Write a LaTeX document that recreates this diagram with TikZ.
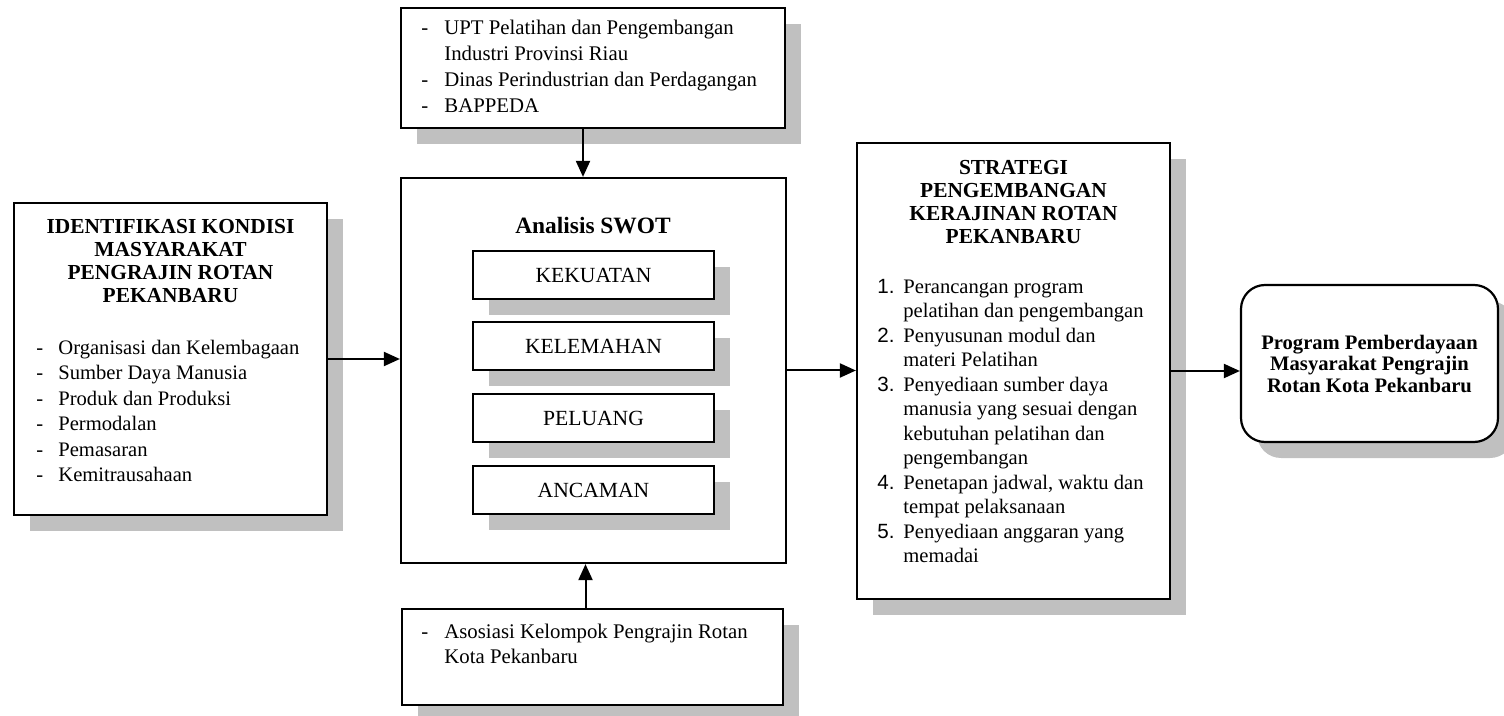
\documentclass[tikz,border=0pt]{standalone}
\usepackage{fontspec}
\setmainfont{Liberation Serif}
\newfontfamily\numfont{Liberation Sans}
\usetikzlibrary{arrows.meta,shadows}
\definecolor{shadowgray}{RGB}{192,192,192}
\tikzset{
	frame/.style={draw, line width=1.1pt, fill=white, inner sep=0pt},
	box/.style={frame, general shadow={fill=shadowgray, shadow xshift=8pt, shadow yshift=-8pt}},
	label/.style={box, minimum width=120.5pt, minimum height=24pt, font=\fontsize{10.8}{13}\selectfont},
	txt/.style={inner sep=0pt, anchor=base west},
	title/.style={inner sep=0pt, anchor=base, font=\bfseries},
	arr/.style={line width=1pt, -{Triangle[length=8pt,width=7pt]}},
}
\begin{document}
\begin{tikzpicture}[x=0.5pt, y=-0.5pt]
		\useasboundingbox (0,0) rectangle (1504,716);
		\node (upt) [box, minimum width=192pt, minimum height=60pt] at (593,68) {};
		\node (upttext) [txt] at (421,34.5) {\fontsize{10.4}{13}\selectfont
			\begin{tabular}[t]{@{}p{11.5pt}@{}l@{}}
				- & UPT Pelatihan dan Pengembangan \\
				  & Industri Provinsi Riau \\
				- & Dinas Perindustrian dan Perdagangan \\
				- & BAPPEDA
			\end{tabular}
		};
		
		\node (kondisi) [box, minimum width=156.5pt, minimum height=156pt] at (170.5,359) {};
		\node (kondisititle) [title] at (170.5,233.5) {\fontsize{10.7}{11.5}\selectfont
			\begin{tabular}[t]{@{}c@{}}
				IDENTIFIKASI KONDISI \\
				MASYARAKAT \\
				PENGRAJIN ROTAN \\
				PEKANBARU
			\end{tabular}
		};
		\node (kondisilist) [txt] at (36,354.5) {\fontsize{10.3}{12.7}\selectfont
			\begin{tabular}[t]{@{}p{11pt}@{}l@{}}
				- & Organisasi dan Kelembagaan \\
				- & Sumber Daya Manusia \\
				- & Produk dan Produksi \\
				- & Permodalan \\
				- & Pemasaran \\
				- & Kemitrausahaan
			\end{tabular}
		};
		
		\node (swot) [frame, minimum width=192.5pt, minimum height=192.5pt] at (593.5,370.5) {};
		\node (swottitle) [title, font=\bfseries\fontsize{11.7}{14}\selectfont] at (593,233.5) {Analisis SWOT};
		\node (kekuatan) [label] at (593.5,275) {KEKUATAN};
		\node (kelemahan) [label] at (593.5,346) {KELEMAHAN};
		\node (peluang) [label] at (593.5,418) {PELUANG};
		\node (ancaman) [label] at (593.5,490) {ANCAMAN};
		
		\node (asosiasi) [box, minimum width=190.5pt, minimum height=48pt] at (592.5,657) {};
		\node (asosiasitext) [txt] at (421,638.5) {\fontsize{10.4}{12.5}\selectfont
			\begin{tabular}[t]{@{}p{11.5pt}@{}l@{}}
				- & Asosiasi Kelompok Pengrajin Rotan \\
				  & Kota Pekanbaru
			\end{tabular}
		};
		
		\node (strategi) [box, minimum width=156.5pt, minimum height=228pt] at (1013.5,371) {};
		\node (strategititle) [title] at (1013.5,174.5) {\fontsize{10.7}{11.5}\selectfont
			\begin{tabular}[t]{@{}c@{}}
				STRATEGI \\
				PENGEMBANGAN \\
				KERAJINAN ROTAN \\
				PEKANBARU
			\end{tabular}
		};
		\node (strategilist) [txt] at (877,293.5) {\fontsize{10.3}{12.25}\selectfont
			\begin{tabular}[t]{@{}p{13pt}@{}l@{}}
				{\numfont 1.} & Perancangan program \\
				  & pelatihan dan pengembangan \\
				{\numfont 2.} & Penyusunan modul dan \\
				  & materi Pelatihan \\
				{\numfont 3.} & Penyediaan sumber daya \\
				  & manusia yang sesuai dengan \\
				  & kebutuhan pelatihan dan \\
				  & pengembangan \\
				{\numfont 4.} & Penetapan jadwal, waktu dan \\
				  & tempat pelaksanaan \\
				{\numfont 5.} & Penyediaan anggaran yang \\
				  & memadai
			\end{tabular}
		};
		
		\node (program) [box, rounded corners=12pt, minimum width=128.5pt, minimum height=78.5pt, align=center, font=\bfseries\fontsize{10.3}{10.75}\selectfont] at (1369.5,363.5) {Program Pemberdayaan\\Masyarakat Pengrajin\\Rotan Kota Pekanbaru};
		
		\draw [arr] (kondisi.east) -- (kondisi.east -| swot.west);
		\draw [arr] ([xshift=-5pt]upt.south) -- ([xshift=-5pt]upt.south |- swot.north);
		\draw [arr] ([xshift=-3.5pt]asosiasi.north) -- ([xshift=-3.5pt]asosiasi.north |- swot.south);
		\draw [arr] (swot.east) -- (swot.east -| strategi.west);
		\draw [arr] (strategi.east) -- (strategi.east -| program.west);
	\end{tikzpicture}
\end{document}
